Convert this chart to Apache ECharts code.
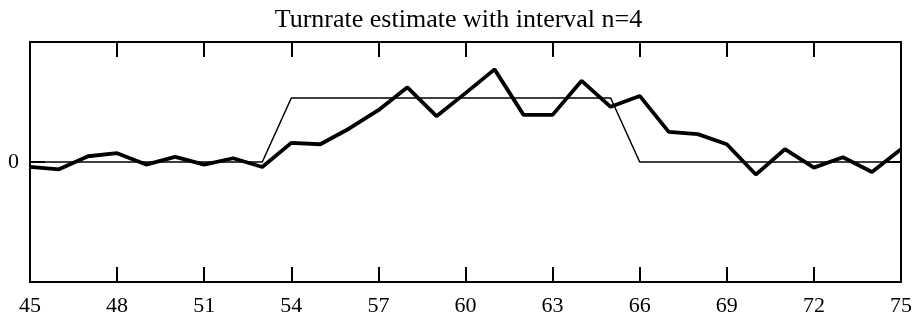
<!DOCTYPE html>
<html>
<head>
<meta charset="utf-8">
<script src="https://cdn.jsdelivr.net/npm/echarts@6/dist/echarts.min.js"></script>
<style>
  html, body { margin: 0; padding: 0; background: #fff; }
  #chart { width: 917px; height: 320px; }
</style>
</head>
<body>
<div id="chart"></div>
<script>
// 数据
var xValues = [45, 46, 47, 48, 49, 50, 51, 52, 53, 54, 55, 56, 57, 58, 59, 60,
               61, 62, 63, 64, 65, 66, 67, 68, 69, 70, 71, 72, 73, 74, 75];
var turnrate = [-0.062, -0.091, 0.072, 0.110, -0.032, 0.063, -0.032, 0.047, -0.062, 0.239,
                0.222, 0.419, 0.648, 0.933, 0.573, 0.861, 1.158, 0.589, 0.589, 1.015,
                0.690, 0.826, 0.376, 0.348, 0.222, -0.157, 0.160, -0.070, 0.059, -0.125, 0.160];
var estimate = [0, 0, 0, 0, 0, 0, 0, 0, 0, 0.8,
                0.8, 0.8, 0.8, 0.8, 0.8, 0.8, 0.8, 0.8, 0.8, 0.8,
                0.8, 0, 0, 0, 0, 0, 0, 0, 0, 0, 0];
var titleText = 'Turnrate estimate with interval n=4';

function pairs(ys) {
    var out = [];
    for (var i = 0; i < xValues.length; i++) {
        out.push([xValues[i], ys[i]]);
    }
    return out;
}

var font = '"Liberation Serif", "DejaVu Serif", serif';
var myChart = echarts.init(document.getElementById('chart'));

var lineStyleAxis = { color: '#000', width: 2 };

myChart.setOption({
    animation: false,
    title: {
        text: titleText,
        left: 'center',
        top: 2,
        textStyle: { fontFamily: font, fontWeight: 'normal', fontSize: 26, color: '#000' }
    },
    grid: { left: 30, right: 16, top: 42, bottom: 38, containLabel: false },
    xAxis: [{
        type: 'value',
        min: 45, max: 75, interval: 3,
        position: 'bottom',
        axisLine: { onZero: false, lineStyle: lineStyleAxis },
        axisTick: { inside: true, length: 15, lineStyle: lineStyleAxis },
        axisLabel: { fontFamily: font, fontSize: 22, color: '#000', margin: 13 },
        splitLine: { show: false }
    }, {
        type: 'value',
        min: 45, max: 75, interval: 3,
        position: 'top',
        axisLine: { onZero: false, lineStyle: lineStyleAxis },
        axisTick: { inside: true, length: 15, lineStyle: lineStyleAxis },
        axisLabel: { show: false },
        splitLine: { show: false }
    }],
    yAxis: [{
        type: 'value',
        min: -1.5, max: 1.5, interval: 1.5,
        position: 'left',
        axisLine: { show: true, onZero: false, lineStyle: lineStyleAxis },
        axisTick: { inside: true, length: 15, lineStyle: lineStyleAxis },
        axisLabel: {
            fontFamily: font, fontSize: 22, color: '#000', margin: 11,
            formatter: function (v) { return v === 0 ? '0' : ''; }
        },
        splitLine: { show: false }
    }, {
        type: 'value',
        min: -1.5, max: 1.5, interval: 1.5,
        position: 'right',
        axisLine: { show: true, onZero: false, lineStyle: lineStyleAxis },
        axisTick: { inside: true, length: 15, lineStyle: lineStyleAxis },
        axisLabel: { show: false },
        splitLine: { show: false }
    }],
    series: [{
        name: 'estimate',
        type: 'line',
        data: pairs(estimate),
        showSymbol: false,
        lineStyle: { color: '#000', width: 1.5 }
    }, {
        name: 'turnrate',
        type: 'line',
        data: pairs(turnrate),
        showSymbol: false,
        lineStyle: { color: '#000', width: 3.8 }
    }]
});
</script>
</body>
</html>
